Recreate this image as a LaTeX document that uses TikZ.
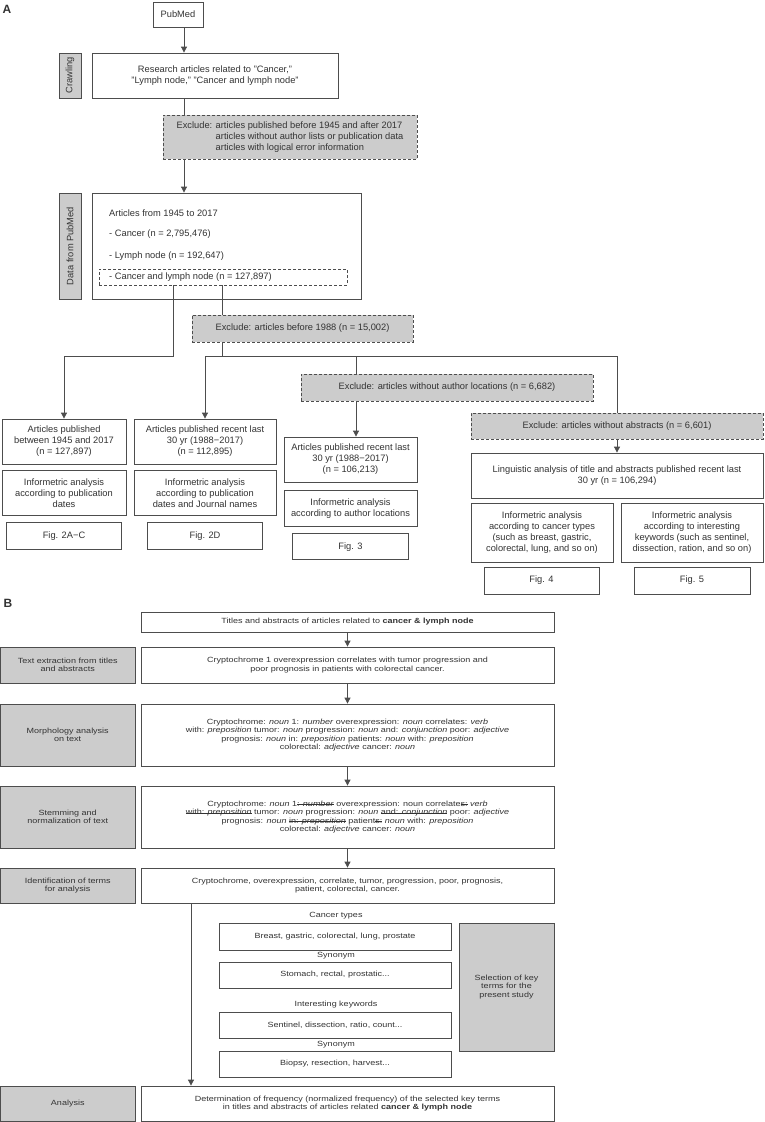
\documentclass[tikz,border=0pt]{standalone}
\usepackage{fontspec}
\setmainfont{Liberation Sans}
\newfontfamily\widesans[FakeStretch=1.2]{Liberation Sans}
\usetikzlibrary{arrows.meta,positioning}

\definecolor{edge}{HTML}{4D4D4D}
\definecolor{shade}{HTML}{CCCCCC}
\definecolor{txt}{HTML}{333333}
\newcommand\asans{\fontsize{9.3}{11}\selectfont}
\newcommand\bsans{\widesans\fontsize{7.5}{8.5}\selectfont}
% struck-through word
\newcommand\strk[1]{\leavevmode\setbox0\hbox{#1}%
  \rlap{\rule[0.32ex]{\wd0}{0.45pt}}\box0\relax}

\begin{document}
\begin{tikzpicture}[
    x=1pt, y=-1pt,
    every node/.style={
        font=\asans, text=txt,
        inner sep=1pt,
        align=center
    },
    sz/.style 2 args={minimum width=#1, minimum height=#2},
    box/.style={draw=edge, line width=0.8pt, fill=white},
    side/.style={draw=edge, line width=0.8pt, fill=shade},
    excl/.style={draw=edge, line width=0.8pt, fill=shade,
        dash pattern=on 3pt off 2pt},
    dbox/.style={draw=edge, line width=0.6pt,
        dash pattern=on 3pt off 2pt},
    bf/.style={font=\bsans},
    ln/.style={draw=edge, line width=0.8pt},
    arr/.style={draw=edge, line width=0.8pt,
        -{Triangle[width=6pt,length=6pt]}}
]
\useasboundingbox (0,0) rectangle (764,1122);

% part A
\node[font=\bfseries\fontsize{12}{12}\selectfont] (lblA) at (7,9) {A};
\node[box, sz={50}{25}] (pubmed) at (178,14.5) {PubMed};
\node[side, rotate=90, sz={45}{22}] (crawl) at (70,75.5) {Crawling};
\node[box, sz={246}{45}] (research) at (215,75.5)
    {Research articles related to "Cancer,"\\"Lymph node," "Cancer and lymph node"};
\node[excl, sz={254}{44}] (excl1) at (290,137)
    {\begin{tabular}{@{}l@{ }l@{}}
     Exclude: & articles published before 1945 and after 2017\\
              & articles without author lists or publication data\\
              & articles with logical error information
     \end{tabular}};
\node[side, rotate=90, sz={106}{22}] (datalab) at (70,246) {Data from PubMed};
\node[box, sz={269}{106}] (data) at (226.5,246) {};
\node[anchor=west] (years) at (108,213) {Articles from 1945 to 2017};
\node[anchor=west] (cancer) at (108,234) {- Cancer (n = 2,795,476)};
\node[anchor=west] (lymph) at (108,256) {- Lymph node (n = 192,647)};
\node[dbox, sz={248}{16}] (both) at (223,277) {};
\node[anchor=west] (bothtxt) at (108,277) {- Cancer and lymph node (n = 127,897)};
\node[excl, sz={221}{27}] (excl2) at (302.5,328.5)
    {Exclude: articles before 1988 (n = 15,002)};
\node[excl, sz={292}{27}] (excl3) at (447,387.5)
    {Exclude: articles without author locations (n = 6,682)};
\node[excl, sz={292}{26}] (excl4) at (617,426)
    {Exclude: articles without abstracts (n = 6,601)};

\node[box, sz={124}{45}] (art1) at (64,441.5)
    {Articles published\\between 1945 and 2017\\(n = 127,897)};
\node[box, sz={124}{45}, below=6pt of art1] (inf1)
    {Informetric analysis\\according to publication\\dates};
\node[box, sz={115}{27}, below=6pt of inf1] (fig1) {Fig. 2A−C};

\node[box, sz={142}{45}] (art2) at (205,441.5)
    {Articles published recent last\\30 yr (1988−2017)\\(n = 112,895)};
\node[box, sz={142}{45}, below=6pt of art2] (inf2)
    {Informetric analysis\\according to publication\\dates and Journal names};
\node[box, sz={115}{27}, below=6pt of inf2] (fig2) {Fig. 2D};

\node[box, sz={133}{45}] (art3) at (350.5,459.5)
    {Articles published recent last\\30 yr (1988−2017)\\(n = 106,213)};
\node[box, sz={133}{36}, below=8pt of art3] (inf3)
    {Informetric analysis\\according to author locations};
\node[box, sz={116}{26}, below=6pt of inf3] (fig3) {Fig. 3};

\node[box, sz={292}{45}] (ling) at (617,475.5)
    {Linguistic analysis of title and abstracts published recent last\\30 yr (n = 106,294)};
\node[box, sz={142}{59}] (inf4) at (542,532.5)
    {Informetric analysis\\according to cancer types\\(such as breast, gastric,\\colorectal, lung, and so on)};
\node[box, sz={142}{59}] (inf5) at (692,532.5)
    {Informetric analysis\\according to interesting\\keywords (such as sentinel,\\dissection, ration, and so on)};
\node[box, sz={115}{27}] (fig4) at (541.5,580.5) {Fig. 4};
\node[box, sz={116}{27}] (fig5) at (692,580.5) {Fig. 5};

\coordinate (spine) at (184,0);
\coordinate (j1) at (173,356);
\coordinate (j2) at (222,356);
\coordinate (j3) at (617,356);
\coordinate (j4) at (356,356);

\draw[arr] (pubmed.south -| spine) -- (research.north -| spine);
\draw[ln] (research.south -| spine) -- (excl1.north -| spine);
\draw[arr] (excl1.south -| spine) -- (data.north -| spine);
\draw[arr] (both.south -| j1) -- (j1) -| (art1.north);
\draw[ln] (both.south -| j2) -- (excl2.north -| j2);
\draw[ln] (excl2.south -| j2) -- (j2);
\draw[ln] (art2.north |- j3) -- (j3) -- (excl4.north);
\draw[arr] (art2.north |- j3) -- (art2.north);
\draw[ln] (j4) -- (excl3.north -| j4);
\draw[arr] (excl3.south -| j4) -- (art3.north -| j4);
\draw[arr] (excl4.south) -- (ling.north);

% part B
\node[font=\bfseries\fontsize{12}{12}\selectfont] (lblB) at (8,603) {B};
\node[box, bf, sz={413}{20}] (titles) at (347.5,622)
    {Titles and abstracts of articles related to \textbf{cancer \& lymph node}};

\node[side, bf, sz={134.5}{36}] (extlab) at (67.75,665)
    {Text extraction from titles\\and abstracts};
\node[box, bf, sz={413}{36}] (extract) at (347.5,665)
    {Cryptochrome 1 overexpression correlates with tumor progression and\\
     poor prognosis in patients with colorectal cancer.};

\node[side, bf, sz={134.5}{62}] (morphlab) at (67.75,735)
    {Morphology analysis\\on text};
\node[box, bf, sz={413}{62}] (morph) at (347.5,735)
    {Cryptochrome: \textit{noun} 1: \textit{number} overexpression: \textit{noun} correlates: \textit{verb}\\
     with: \textit{preposition} tumor: \textit{noun} progression: \textit{noun} and: \textit{conjunction} poor: \textit{adjective}\\
     prognosis: \textit{noun} in: \textit{preposition} patients: \textit{noun} with: \textit{preposition}\\
     colorectal: \textit{adjective} cancer: \textit{noun}};

\node[side, bf, sz={134.5}{62}] (stemlab) at (67.75,817)
    {Stemming and\\normalization of text};
\node[box, bf, sz={413}{62}] (stem) at (347.5,817)
    {Cryptochrome: \textit{noun} 1\strk{: \textit{number}} overexpression: noun correlate\strk{s:} \textit{verb}\\
     \strk{with: \textit{preposition}} tumor: \textit{noun} progression: \textit{noun} \strk{and: \textit{conjunction}} poor: \textit{adjective}\\
     prognosis: \textit{noun} \strk{in: \textit{preposition}} patient\strk{s:} \textit{noun} with: \textit{preposition}\\
     colorectal: \textit{adjective} cancer: \textit{noun}};

\node[side, bf, sz={134.5}{35}] (identlab) at (67.75,885.5)
    {Identification of terms\\for analysis};
\node[box, bf, sz={413}{35}] (ident) at (347.5,885.5)
    {Cryptochrome, overexpression, correlate, tumor, progression, poor, prognosis,\\
     patient, colorectal, cancer.};

\node[bf] (typelbl) at (336,916) {Cancer types};
\node[box, bf, sz={232}{27}] (types) at (335,936.5) {Breast, gastric, colorectal, lung, prostate};
\node[bf] (syn1) at (336,955.5) {Synonym};
\node[box, bf, sz={232}{26}] (typesyn) at (335,975) {Stomach, rectal, prostatic...};
\node[bf] (kwlbl) at (336,1005) {Interesting keywords};
\node[box, bf, sz={232}{26}] (kw) at (335,1025) {Sentinel, dissection, ratio, count...};
\node[bf] (syn2) at (336,1044.5) {Synonym};
\node[box, bf, sz={232}{26}] (kwsyn) at (335,1064) {Biopsy, resection, harvest...};
\node[side, bf, sz={95}{128}] (select) at (506.5,987)
    {Selection of key\\terms for the\\present study};

\node[side, bf, sz={134.5}{35}] (analab) at (67.75,1103.5) {Analysis};
\node[box, bf, sz={413}{35}] (analysis) at (347.5,1103.5)
    {Determination of frequency (normalized frequency) of the selected key terms\\
     in titles and abstracts of articles related \textbf{cancer \& lymph node}};

\coordinate (feed) at (191,0);
\draw[arr] (titles) -- (extract);
\draw[arr] (extract) -- (morph);
\draw[arr] (morph) -- (stem);
\draw[arr] (stem) -- (ident);
\draw[arr] (ident.south -| feed) -- (analysis.north -| feed);
\end{tikzpicture}
\end{document}
